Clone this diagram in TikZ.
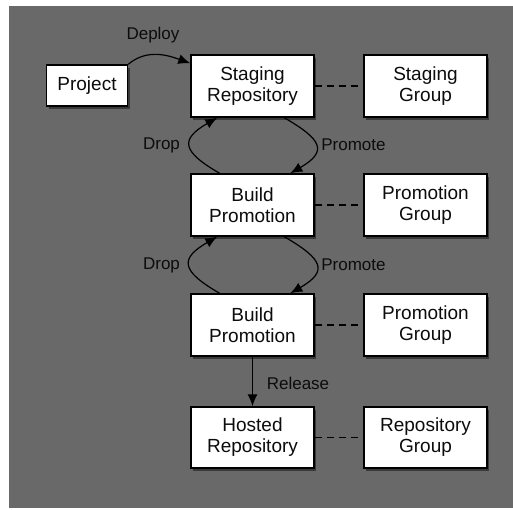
\documentclass[tikz,border=0pt]{standalone}
\usepackage{fontspec}
\setmainfont{Liberation Sans}
\usetikzlibrary{arrows.meta,shadows}
\definecolor{bggray}{HTML}{696969}
\definecolor{ink}{HTML}{0c0c0c}

\tikzset{
  box/.style={rectangle,draw=black,fill=white,line width=1.4pt,
    minimum width=123pt,minimum height=62pt,inner sep=2pt,align=center,
    text=ink,font=\fontsize{19}{21}\selectfont,
    drop shadow={shadow xshift=2pt,shadow yshift=-3pt,fill=black,opacity=.45}},
  lbl/.style={text=ink,font=\fontsize{17}{19}\selectfont,inner sep=0pt},
  flow/.style={line width=1.2pt,-{Latex[length=12pt,width=10pt]}},
  link/.style={line width=1.2pt,dash pattern=on 7pt off 5pt}
}

\begin{document}
\begin{tikzpicture}[x=1pt,y=-1pt]
  \useasboundingbox (0,0) rectangle (513,509);
  \fill[bggray] (9,6) rectangle (513,508);

  \node[box,minimum width=81pt,minimum height=41pt] (proj) at (87,85.5) {Project};
  \node[box] (stage) at (252.5,86) {Staging\\Repository};
  \node[box] (stagegrp) at (425.5,86) {Staging\\Group};
  \node[box] (build1) at (252.5,205) {Build\\Promotion};
  \node[box] (promgrp1) at (425.5,205) {Promotion\\Group};
  \node[box] (build2) at (252.5,325) {Build\\Promotion};
  \node[box] (promgrp2) at (425.5,325) {Promotion\\Group};
  \node[box,minimum height=61pt] (hosted) at (252.5,437.5) {Hosted\\Repository};
  \node[box,minimum height=61pt] (repogrp) at (425.5,437.5) {Repository\\Group};

  \node[lbl] (deploy) at (153,35) {Deploy};
  \node[lbl] (drop1) at (161.5,145) {Drop};
  \node[lbl] (promote1) at (353.5,145) {Promote};
  \node[lbl] (drop2) at (161.5,265) {Drop};
  \node[lbl] (promote2) at (353.5,265) {Promote};
  \node[lbl] (release) at (298,383) {Release};

  \draw[flow] (proj.north east) to[out=40,in=160] (stage.160);

  \foreach \lo/\hi in {stage/build1, build1/build2}
  {
    \draw[flow] (\hi.136) to[out=150,in=210,looseness=2] (\lo.222);
    \draw[flow] (\lo.-45) to[out=-30,in=30,looseness=2] (\hi.40);
  }

  \draw[flow] (build2) -- (hosted);

  \foreach \from/\to in {stage/stagegrp, build1/promgrp1, build2/promgrp2, hosted/repogrp}
  \draw[link] (\from) -- (\to);
\end{tikzpicture}
\end{document}
